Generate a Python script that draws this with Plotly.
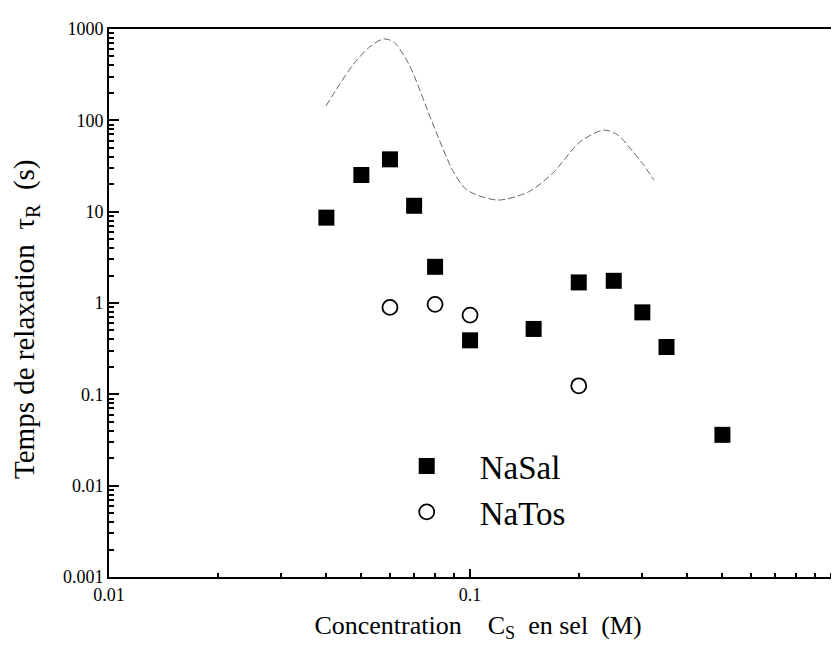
import plotly.graph_objects as go

# NaSal (filled squares)
nasal_x = [0.04, 0.05, 0.06, 0.07, 0.08, 0.1, 0.15, 0.2, 0.25, 0.3, 0.35, 0.5]
nasal_y = [8.6, 25.2, 37.4, 11.6, 2.49, 0.39, 0.52, 1.68, 1.75, 0.79, 0.33, 0.036]

# NaTos (open circles)
natos_x = [0.06, 0.08, 0.1, 0.2]
natos_y = [0.895, 0.966, 0.736, 0.124]

# Dashed guide curve
curve_x = [0.0399, 0.0434, 0.0475, 0.0528, 0.0575, 0.0613, 0.0675, 0.0791, 0.0899,
           0.098, 0.1192, 0.1452, 0.1693, 0.2018, 0.2351, 0.2566, 0.2803, 0.3026, 0.323]
curve_y = [143.5, 243.6, 410, 640, 777, 726, 421, 88.9, 27.4,
           17.3, 13.4, 16.5, 26.3, 58.3, 78.3, 69, 47.3, 32.4, 22.2]

# Axis ticks
x_tickvals = [0.01, 0.1]
x_ticktext = ["0.01", "0.1"]
x_minor = [0.02, 0.03, 0.04, 0.05, 0.06, 0.07, 0.08, 0.09,
           0.2, 0.3, 0.4, 0.5, 0.6, 0.7, 0.8, 0.9, 1.0]
y_tickvals = [0.001, 0.01, 0.1, 1, 10, 100, 1000]
y_ticktext = ["0.001", "0.01", "0.1", "1", "10", "100", "1000"]
y_minor = [m * d for d in [0.001, 0.01, 0.1, 1, 10, 100] for m in range(2, 10)]

FONT = "Liberation Serif"
NB = "\u00a0"

fig = go.Figure()
fig.add_trace(go.Scatter(
    x=curve_x, y=curve_y, mode="lines", showlegend=False,
    line=dict(color="#666666", width=1, dash="7px,3px", shape="spline", smoothing=0.8),
    hoverinfo="skip"))
fig.add_trace(go.Scatter(
    x=nasal_x, y=nasal_y, mode="markers", name="NaSal",
    marker=dict(symbol="square", size=16, color="black", line=dict(width=0))))
fig.add_trace(go.Scatter(
    x=natos_x, y=natos_y, mode="markers", name="NaTos",
    marker=dict(symbol="circle-open", size=15, color="black", line=dict(width=1.8, color="black"))))

fig.update_layout(
    width=839, height=647,
    margin=dict(l=101, r=0, t=21, b=78),
    paper_bgcolor="white", plot_bgcolor="white",
    font=dict(family=FONT, color="black", size=18),
    legend=dict(x=0.3587, y=0.2536, xanchor="left", yanchor="top",
                font=dict(family=FONT, size=33), bgcolor="rgba(0,0,0,0)",
                itemwidth=96, tracegroupgap=0),
    annotations=[dict(
        text="Temps de relaxation" + NB * 2 + "\u03c4<sub>R</sub>" + NB * 2 + "(s)",
        xref="paper", yref="paper", x=-0.1125, y=0.4708,
        xanchor="center", yanchor="middle", textangle=-90, showarrow=False,
        font=dict(family=FONT, size=29, color="black"))],
)
fig.update_xaxes(
    type="log", range=[-2, 0.044], automargin=False,
    showgrid=False, zeroline=False,
    showline=True, linecolor="black", linewidth=2, mirror=True,
    ticks="inside", ticklen=8, tickwidth=1.5, tickcolor="black",
    tickmode="array", tickvals=x_tickvals, ticktext=x_ticktext,
    tickfont=dict(family=FONT, size=18),
    minor=dict(ticks="inside", ticklen=4, tickwidth=1.5, tickcolor="black",
               tickmode="array", tickvals=x_minor, showgrid=False),
    title=dict(text="Concentration" + NB * 4 + "C<sub>S</sub>" + NB * 2 + "en sel" + NB * 2 + "(M)",
               font=dict(family=FONT, size=26), standoff=12),
)
fig.update_yaxes(
    type="log", range=[-3, 3], automargin=False,
    showgrid=False, zeroline=False,
    showline=True, linecolor="black", linewidth=2, mirror=False,
    ticks="inside", ticklen=10, tickwidth=1.5, tickcolor="black",
    tickmode="array", tickvals=y_tickvals, ticktext=y_ticktext,
    tickfont=dict(family=FONT, size=18),
    minor=dict(ticks="inside", ticklen=5, tickwidth=1.5, tickcolor="black",
               tickmode="array", tickvals=y_minor, showgrid=False),
)

fig.write_html("out.html")
